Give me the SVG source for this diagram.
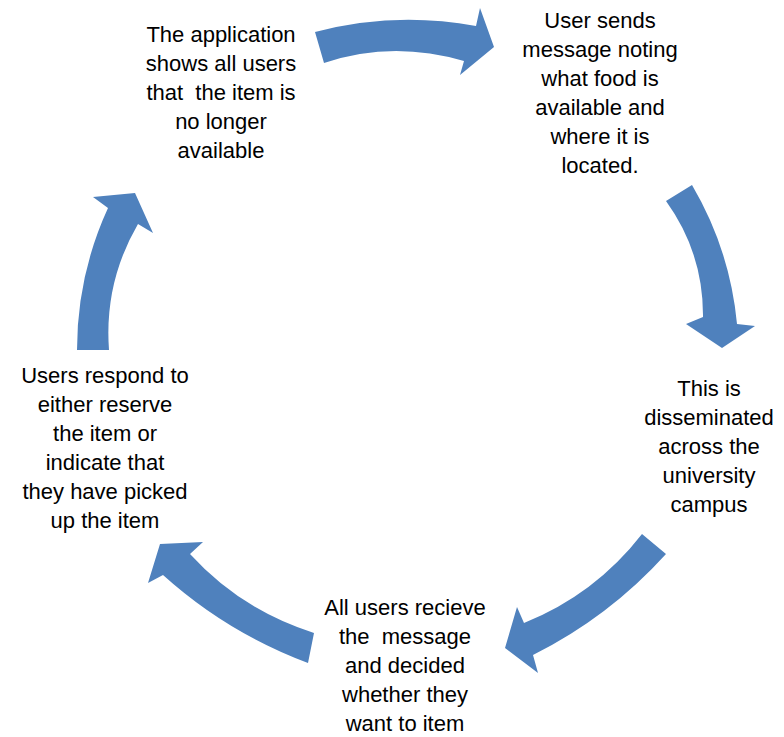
<svg xmlns="http://www.w3.org/2000/svg" width="784" height="737" viewBox="0 0 784 737">
<style>
.arrow{fill:#4F81BD;stroke:none}
.lbl{font-family:"Liberation Sans",Arial,sans-serif;font-size:22px;fill:#000;text-anchor:middle}
</style>
<rect width="784" height="737" fill="#fff"/>
<g id="connectors">
<path class="arrow" d="M315,32 Q394.5,11 476,26 L480,8 L494,47 L460,75 L464,61 Q392,40 324,63 Z"/>
<path class="arrow" d="M692,185 Q730,249.6 737,324 L755,326 L722,348 L686,324 L703,317 Q703.5,253 666,201 Z"/>
<path class="arrow" d="M666,554 Q609,617 533,655 L538,673 L505,648 L517,607 L524,623 Q595,594.5 642,534 Z"/>
<path class="arrow" d="M308,663 Q227,632.7 163,575 L148,583 L160,544 L203,542 L190,554 Q241,610 314,633 Z"/>
<path class="arrow" d="M77,350 Q77,275.6 108,208 L93,197 L135,193 L153,233 L138,224 Q104,282.5 109,350 Z"/>
</g>
<g id="node1">
<text class="lbl" x="600" y="28">User sends</text>
<text class="lbl" x="600" y="57">message noting</text>
<text class="lbl" x="600" y="86">what food is</text>
<text class="lbl" x="600" y="115">available and</text>
<text class="lbl" x="600" y="144">where it is</text>
<text class="lbl" x="600" y="173">located.</text>
</g>
<g id="node2">
<text class="lbl" x="709" y="396">This is</text>
<text class="lbl" x="709" y="425">disseminated</text>
<text class="lbl" x="709" y="454">across the</text>
<text class="lbl" x="709" y="483">university</text>
<text class="lbl" x="709" y="512">campus</text>
</g>
<g id="node3">
<text class="lbl" x="405" y="615">All users recieve</text>
<text class="lbl" x="405" y="644" xml:space="preserve">the  message</text>
<text class="lbl" x="405" y="673">and decided</text>
<text class="lbl" x="405" y="702">whether they</text>
<text class="lbl" x="405" y="731">want to item</text>
</g>
<g id="node4">
<text class="lbl" x="105" y="383">Users respond to</text>
<text class="lbl" x="105" y="412">either reserve</text>
<text class="lbl" x="105" y="441">the item or</text>
<text class="lbl" x="105" y="470">indicate that</text>
<text class="lbl" x="105" y="499">they have picked</text>
<text class="lbl" x="105" y="528">up the item</text>
</g>
<g id="node5">
<text class="lbl" x="221" y="42">The application</text>
<text class="lbl" x="221" y="71">shows all users</text>
<text class="lbl" x="221" y="100" xml:space="preserve">that  the item is</text>
<text class="lbl" x="221" y="129">no longer</text>
<text class="lbl" x="221" y="158">available</text>
</g>
</svg>
